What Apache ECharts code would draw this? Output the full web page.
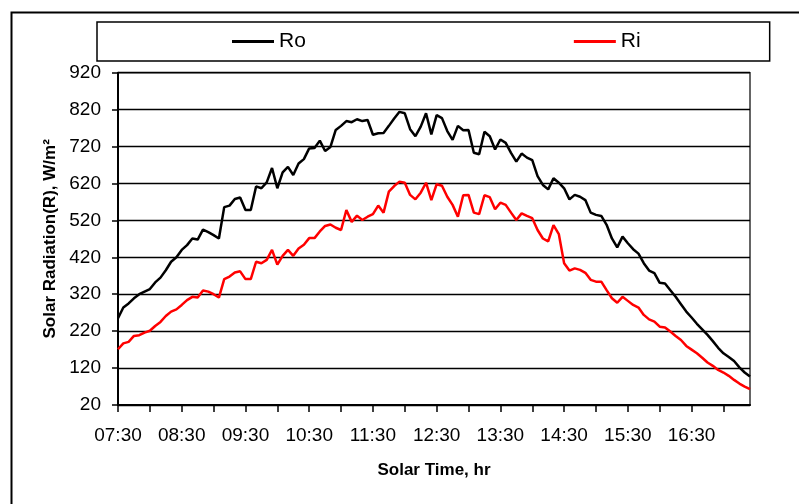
<!DOCTYPE html>
<html>
<head>
<meta charset="utf-8">
<style>
  html, body { margin: 0; padding: 0; background: #fff; }
  #chart { width: 799px; height: 504px; }
</style>
<script src="https://cdn.jsdelivr.net/npm/echarts@6/dist/echarts.min.js"></script>
</head>
<body>
<div id="chart"></div>
<script>
  // readings every 5 minutes, 07:30 .. 17:25
  var startMin = 7 * 60 + 30;
  var stepMin = 5;
  var pointCount = 120;
  var times = [];
  for (var k = 0; k < pointCount; k++) {
    var m = startMin + k * stepMin;
    var hh = Math.floor(m / 60), mm = m % 60;
    times.push((hh < 10 ? '0' : '') + hh + ':' + (mm < 10 ? '0' : '') + mm);
  }

  // outside radiation (W/m2)
  var ro = [
    255, 284, 295, 309, 320, 327, 334, 352, 365, 385,
    408, 420, 440, 453, 471, 468, 495, 488, 480, 471,
    556, 560, 578, 582, 548, 548, 612, 607, 623, 662,
    607, 650, 665, 643, 674, 686, 715, 716, 736, 708,
    719, 765, 776, 789, 786, 794, 789, 792, 752, 756,
    757, 776, 796, 814, 810, 767, 748, 774, 810, 753,
    805, 797, 762, 738, 776, 764, 765, 703, 699, 760,
    748, 712, 739, 730, 703, 679, 701, 690, 683, 640,
    616, 604, 634, 622, 607, 577, 589, 584, 575, 541,
    535, 532, 508, 471, 447, 476, 458, 442, 430, 404,
    384, 377, 351, 349, 331, 313, 293, 273, 257, 240,
    225, 210, 193, 175, 160, 150, 139, 122, 108, 97
  ];

  // inside radiation (W/m2)
  var ri = [
    171, 187, 191, 207, 209, 216, 221, 234, 245, 261,
    273, 279, 291, 304, 313, 311, 330, 327, 320, 311,
    361, 368, 379, 382, 361, 361, 408, 404, 413, 440,
    400, 424, 440, 424, 444, 454, 472, 472, 490, 505,
    509, 500, 494, 548, 516, 533, 521, 530, 537, 560,
    541, 598, 613, 625, 622, 589, 577, 595, 622, 575,
    618, 614, 584, 562, 530, 588, 589, 541, 537, 588,
    583, 550, 568, 562, 541, 521, 539, 532, 526, 494,
    471, 463, 507, 483, 404, 384, 390, 386, 378, 359,
    354, 354, 331, 309, 297, 313, 302, 291, 284, 264,
    252, 246, 232, 230, 219, 207, 196, 180, 170, 160,
    148, 135, 126, 115, 108, 99, 88, 78, 70, 63
  ];

  var yMin = 20, yMax = 920, yStep = 100;
  var fontName = '"Liberation Sans", Arial, sans-serif';

  var chart = echarts.init(document.getElementById('chart'));
  chart.setOption({
    animation: false,
    backgroundColor: '#ffffff',
    textStyle: { fontFamily: fontName, color: '#000' },
    graphic: [
      { // outer frame
        type: 'rect', left: 9, top: 10, z: 0,
        shape: { width: 810, height: 510 },
        style: { fill: 'none', stroke: '#000', lineWidth: 2 }
      }
    ],
    legend: {
      left: 97, top: 22,
      width: 677,
      padding: [9, 129, 9, 135],
      borderColor: '#000', borderWidth: 1.5,
      icon: 'rect', itemWidth: 42, itemHeight: 3,
      itemGap: 268,
      textStyle: { fontSize: 21, color: '#000', fontFamily: fontName },
      data: ['Ro', 'Ri']
    },
    grid: {
      left: 118, top: 72.7, right: 49, bottom: 99,
      show: true, borderColor: '#333', borderWidth: 1.5
    },
    xAxis: {
      type: 'category',
      data: times,
      boundaryGap: false,
      name: 'Solar Time, hr',
      nameLocation: 'middle',
      nameGap: 57,
      nameTextStyle: { fontSize: 17, fontWeight: 'bold', color: '#000' },
      axisLine: { lineStyle: { color: '#000', width: 2 } },
      axisTick: { interval: 5, length: 7, lineStyle: { color: '#000', width: 1.5 } },
      axisLabel: { interval: 11, fontSize: 19, color: '#000', margin: 21 },
      splitLine: { show: false }
    },
    yAxis: {
      type: 'value',
      min: yMin, max: yMax, interval: yStep,
      name: 'Solar Radiation(R), W/m²',
      nameLocation: 'middle',
      nameRotate: 90,
      nameGap: 58,
      nameTextStyle: { fontSize: 17, fontWeight: 'bold', color: '#000' },
      axisLine: { show: true, lineStyle: { color: '#000', width: 2 } },
      axisTick: { show: true, length: 6, lineStyle: { color: '#000', width: 1.5 } },
      axisLabel: { fontSize: 19, color: '#000', margin: 17 },
      splitLine: { lineStyle: { color: '#000', width: 1.3 } }
    },
    series: [
      {
        name: 'Ro', type: 'line', data: ro,
        showSymbol: false, symbol: 'none',
        lineStyle: { color: '#000', width: 2.5 },
        itemStyle: { color: '#000' }
      },
      {
        name: 'Ri', type: 'line', data: ri,
        showSymbol: false, symbol: 'none',
        lineStyle: { color: '#ff0000', width: 2.5 },
        itemStyle: { color: '#ff0000' }
      }
    ]
  });
</script>
</body>
</html>
